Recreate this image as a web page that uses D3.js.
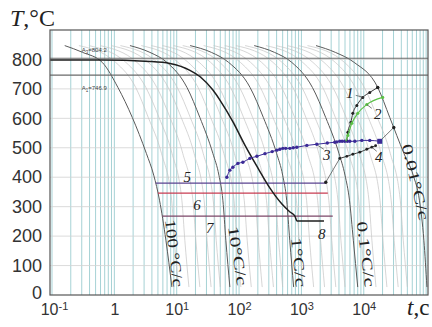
<!DOCTYPE html>
<html>
<head>
<meta charset="utf-8">
<script src="https://cdn.jsdelivr.net/npm/d3@7"></script>
<style>
  body { margin: 0; background: #fff; }
  svg { display: block; }
</style>
</head>
<body>
<div id="chart"></div>
<script>
// ---- data ----
const yTicks = [0, 100, 200, 300, 400, 500, 600, 700, 800];
const xTickVals = [0.1, 1, 10, 100, 1000, 10000];
const xTickBase = ["10", "1", "10", "10", "10", "10"];
const xTickExp = ["-1", "", "1", "2", "3", "4"];

const A3 = 804.2, A1 = 746.9;

// labelled cooling curves: shared temperatures, times per curve
const coolT = [847, 824, 790, 705, 603, 481, 407, 322, 186, 27];
const rateNames = ["100 °C/c", "10°C/c", "1°C/c", "0.1°C/c", "0.01°C/c"];
const t100 = [0.16, 0.31, 0.64, 1.14, 1.94, 3.26, 4.28, 5.30, 6.71, 8.37];
const t10 = [1.78, 3.72, 6.97, 14.6, 23.5, 38.0, 47.5, 55.0, 61.4, 71.2];
const t1 = [16.4, 36, 68, 150, 245, 400, 500, 580, 650, 750];
const t01 = [175, 370, 700, 1500, 2450, 4000, 5000, 5900, 6800, 8000];
const t001 = [1714, 3500, 7000, 16750, 26100, 44000, 62000, 78000, 92000, 103000];

// faint cooling curves in between
const lightT = [847, 790, 705, 603, 481, 322, 186, 27];
const lightTimes = [
  [0.27, 1.05, 2.2, 3.5, 5.7, 8.3, 9.2, 10.7],
  [0.39, 1.53, 3.2, 5.2, 8.4, 12.1, 13.5, 15.7],
  [0.59, 2.3, 4.8, 7.8, 12.5, 18.2, 20.3, 23.5],
  [0.89, 3.5, 7.3, 11.8, 19, 27.5, 30.7, 35.6],
  [1.25, 4.9, 10.2, 16.5, 26.6, 38.5, 43, 50],
  [2.7, 10.5, 22, 35, 57, 83, 92, 107],
  [3.9, 15.3, 32, 52, 84, 121, 135, 157],
  [5.9, 23, 48, 78, 125, 182, 203, 235],
  [8.9, 35, 73, 118, 190, 275, 307, 356],
  [12.5, 49, 102, 165, 266, 385, 430, 500],
  [27, 105, 220, 350, 570, 830, 920, 1070],
  [39, 153, 320, 520, 840, 1210, 1350, 1570],
  [59, 230, 480, 780, 1250, 1820, 2030, 2350],
  [89, 350, 730, 1180, 1900, 2750, 3070, 3560],
  [125, 490, 1020, 1650, 2660, 3850, 4300, 5000],
  [270, 1050, 2200, 3500, 5700, 8300, 9200, 10700],
  [390, 1530, 3200, 5200, 8400, 12100, 13500, 15700],
  [590, 2300, 4800, 7800, 12500, 18200, 20300, 23500],
  [890, 3500, 7300, 11800, 19000, 27500, 30700, 35600],
  [1250, 4900, 10200, 16500, 26600, 38500, 43000, 50000]
];

// thick curve ending at 8
const c8t = [0.093, 0.59, 3.7, 7.8, 16.3, 23.5, 38.1, 49.3, 79.8, 124, 201, 313, 487, 655, 787, 850, 2300];
const c8T = [798, 798, 793, 786, 763, 742, 696, 662, 588, 509, 431, 363, 309, 282, 268, 251, 251];

// curve 3 (blue dots)
const c3t = [63.7, 71.2, 79.6, 95.7, 115, 149, 193, 260, 340, 404, 451, 504, 560, 652, 740, 843,
             1221, 1766, 2600, 3430, 3700, 4120, 4500, 4960, 5450, 5970, 7180, 9290, 12480, 18030];
const c3T = [400, 424, 434, 447, 451, 464, 471, 480, 487, 492, 495, 498, 498, 498, 500, 502,
             508, 512, 516, 519, 520, 522, 522, 522, 522, 522, 522, 525, 525, 522];
// curve 1 (black dots)
const c1t = [5350, 5550, 6200, 6670, 7730, 9640, 12480, 16750];
const c1T = [522, 553, 586, 617, 644, 671, 688, 705];
// curve 2 (green)
const c2t = [5150, 5550, 6430, 8010, 11170, 20100];
const c2T = [522, 542, 583, 617, 647, 671];
// curve 4 (black dots)
const c4t = [4120, 5350, 6670, 8630, 11170, 13430, 15500];
const c4T = [464, 471, 478, 485, 495, 502, 507];
// connecting segments
const linkA = [[2460, 383], [4120, 464]];
const linkB = [[18030, 522], [30270, 569]];
const endDots = [[2460, 383], [30270, 569], [16750, 705]];

// horizontal lines 5, 6, 7 : [tStart, tEnd, T]
const line5 = [4.6, 2460, 380];
const line6 = [5.0, 2650, 346];
const line7 = [5.86, 3180, 268];

// ---- layout ----
const W = 432, H = 327;
const margin = {top: 30, right: 4, bottom: 32, left: 50};

const svg = d3.select("#chart").append("svg")
    .attr("width", W)
    .attr("height", H);

const x = d3.scaleLog()
    .domain([0.0929, 107150])
    .range([margin.left, W - margin.right]);
const y = d3.scaleLinear()
    .domain([0, 900])
    .range([H - margin.bottom, margin.top]);

svg.append("clipPath").attr("id", "plot")
  .append("rect")
    .attr("x", margin.left).attr("y", margin.top)
    .attr("width", W - margin.left - margin.right)
    .attr("height", H - margin.top - margin.bottom);

const plot = svg.append("g").attr("clip-path", "url(#plot)");

// grid
plot.append("g").selectAll("line")
  .data(x.ticks())
  .join("line")
    .attr("x1", d => x(d)).attr("x2", d => x(d))
    .attr("y1", margin.top).attr("y2", H - margin.bottom)
    .attr("stroke", "#9ccdd0")
    .attr("stroke-width", 0.9);
plot.append("g").selectAll("line")
  .data(yTicks.slice(1))
  .join("line")
    .attr("x1", margin.left).attr("x2", W - margin.right)
    .attr("y1", d => y(d)).attr("y2", d => y(d))
    .attr("stroke", "#d2d2d2")
    .attr("stroke-width", 0.8);

const line = d3.line()
    .x(d => x(d[0]))
    .y(d => y(d[1]))
    .curve(d3.curveMonotoneX);

// faint cooling curves
plot.append("g").selectAll("path")
  .data(lightTimes)
  .join("path")
    .attr("d", ts => line(d3.zip(ts, lightT)))
    .attr("fill", "none")
    .attr("stroke", "#c4c4c4")
    .attr("stroke-width", 0.7);

// labelled cooling curves
const rateTimes = [t100, t10, t1, t01, t001];
plot.append("g").selectAll("path")
  .data(rateTimes)
  .join("path")
    .attr("d", ts => line(d3.zip(ts, coolT)))
    .attr("fill", "none")
    .attr("stroke", "#5a5a5a")
    .attr("stroke-width", 1);

// A3 / A1 lines
plot.append("g").selectAll("line")
  .data([A3, A1])
  .join("line")
    .attr("x1", margin.left).attr("x2", W - margin.right)
    .attr("y1", d => y(d)).attr("y2", d => y(d))
    .attr("stroke", "#6a6a6a")
    .attr("stroke-width", 1.1);

// horizontal lines 5, 6, 7
const hLines = [
  {v: line5, color: "#5b4390"},
  {v: line6, color: "#c83c52"},
  {v: line7, color: "#7c4768"}
];
plot.append("g").selectAll("line")
  .data(hLines)
  .join("line")
    .attr("x1", d => x(d.v[0])).attr("x2", d => x(d.v[1]))
    .attr("y1", d => y(d.v[2])).attr("y2", d => y(d.v[2]))
    .attr("stroke", d => d.color)
    .attr("stroke-width", 1.1);

// thick curve (8)
plot.append("path")
    .attr("d", line(d3.zip(c8t, c8T)))
    .attr("fill", "none")
    .attr("stroke", "#1e1e1e")
    .attr("stroke-width", 1.5);

// connecting segments
plot.append("g").selectAll("path")
  .data([linkA, linkB])
  .join("path")
    .attr("d", d3.line().x(d => x(d[0])).y(d => y(d[1])))
    .attr("stroke", "#555")
    .attr("stroke-width", 0.8);

// dotted transformation curves
const dotted = [
  {t: c3t, T: c3T, color: "#3b2a96", lw: 1, r: 1.7, skip: 0},
  {t: c1t, T: c1T, color: "#222", lw: 0.9, r: 1.5, skip: 1},
  {t: c2t, T: c2T, color: "#5cc148", lw: 1.2, r: 1.6, skip: 1},
  {t: c4t, T: c4T, color: "#222", lw: 0.9, r: 1.4, skip: 0}
];
dotted.forEach(function(c) {
  const pts = d3.zip(c.t, c.T);
  plot.append("path")
      .attr("d", line(pts))
      .attr("fill", "none")
      .attr("stroke", c.color)
      .attr("stroke-width", c.lw);
  plot.append("g").selectAll("circle")
    .data(pts.slice(c.skip))
    .join("circle")
      .attr("cx", d => x(d[0]))
      .attr("cy", d => y(d[1]))
      .attr("r", c.r)
      .attr("fill", c.color);
});
// end of curve 3: square marker
plot.append("rect")
    .attr("x", x(c3t[c3t.length - 1]) - 2.5)
    .attr("y", y(c3T[c3T.length - 1]) - 2.5)
    .attr("width", 5).attr("height", 5)
    .attr("fill", "#3b2a96");
plot.append("g").selectAll("circle")
  .data(endDots)
  .join("circle")
    .attr("cx", d => x(d[0]))
    .attr("cy", d => y(d[1]))
    .attr("r", 1.7)
    .attr("fill", "#222");

// ---- annotations ----
const serif = "'Liberation Serif', 'DejaVu Serif', serif";
const sans = "'Liberation Sans', Arial, sans-serif";

// A3 / A1 captions
const aLabels = [
  {t: 0.30, T: 825, sub: "3", val: "=804.2"},
  {t: 0.30, T: 696, sub: "1", val: "=746.9"}
];
aLabels.forEach(function(a) {
  const tx = svg.append("text")
      .attr("x", x(a.t)).attr("y", y(a.T))
      .attr("font-family", sans)
      .attr("font-size", 6)
      .attr("fill", "#444");
  tx.append("tspan").text("A");
  tx.append("tspan").attr("dy", 1.5).attr("font-size", 4.5).text(a.sub);
  tx.append("tspan").attr("dy", -1.5).text(a.val);
});

// rotated rate labels
const rateLabels = [
  {t: 6.47, T: 255, angle: 83, len: 68},
  {t: 66.3, T: 231, angle: 81, len: 60},
  {t: 678, T: 194, angle: 84, len: 50},
  {t: 7740, T: 248, angle: 83, len: 66},
  {t: 40700, T: 509, angle: 77, len: 78}
];
svg.append("g").selectAll("text")
  .data(rateLabels)
  .join("text")
    .attr("transform", d => `translate(${x(d.t)},${y(d.T)}) rotate(${d.angle})`)
    .attr("font-family", serif)
    .attr("font-size", 15)
    .attr("fill", "#222")
    .attr("textLength", d => d.len)
    .attr("lengthAdjust", "spacingAndGlyphs")
    .text((d, i) => rateNames[i]);

// number labels
const numLabels = [
  {n: "1", t: 5960, T: 688},
  {n: "2", t: 16750, T: 617},
  {n: "3", t: 2550, T: 475},
  {n: "4", t: 17380, T: 471},
  {n: "5", t: 14.7, T: 403},
  {n: "6", t: 21.2, T: 305},
  {n: "7", t: 34, T: 230},
  {n: "8", t: 2120, T: 207}
];
svg.append("g").selectAll("text")
  .data(numLabels)
  .join("text")
    .attr("x", d => x(d.t))
    .attr("y", d => y(d.T))
    .attr("dy", "0.35em")
    .attr("text-anchor", "middle")
    .attr("font-family", serif)
    .attr("font-style", "italic")
    .attr("font-size", 15)
    .attr("fill", "#222")
    .text(d => d.n);

// leader lines for 1-4
const leaders = [
  [[7430, 678], [10000, 671]],
  [[13430, 634], [11170, 647]],
  [[2290, 495], [1830, 508]],
  [[16140, 488], [13430, 502]]
];
svg.append("g").selectAll("path")
  .data(leaders)
  .join("path")
    .attr("d", d3.line().x(d => x(d[0])).y(d => y(d[1])))
    .attr("stroke", "#444")
    .attr("stroke-width", 0.7);

// frame
svg.append("rect")
    .attr("x", margin.left).attr("y", margin.top)
    .attr("width", W - margin.left - margin.right)
    .attr("height", H - margin.top - margin.bottom)
    .attr("fill", "none")
    .attr("stroke", "#555")
    .attr("stroke-width", 1.2);

// Y axis
svg.append("g")
    .attr("transform", `translate(${margin.left},0)`)
    .call(d3.axisLeft(y).tickValues(yTicks).tickSize(0).tickPadding(8))
    .call(g => g.select(".domain").remove())
    .selectAll("text")
    .attr("font-family", sans)
    .attr("font-size", 18)
    .attr("fill", "#333")
    .attr("dy", d => d === 0 ? "0.2em" : "0.32em");

// X axis with powers of ten
svg.append("g")
    .attr("transform", `translate(0,${H - margin.bottom})`)
    .call(d3.axisBottom(x).tickValues(xTickVals).tickSize(0).tickPadding(9).tickFormat(""))
    .call(g => g.select(".domain").remove())
    .selectAll(".tick text")
    .attr("font-family", sans)
    .attr("font-size", 16)
    .attr("fill", "#333")
    .attr("dx", d => d === 0.1 ? 2 : 0)
    .each(function(d) {
      const i = xTickVals.indexOf(d);
      const t = d3.select(this);
      t.text(null);
      t.append("tspan").text(xTickBase[i]);
      if (xTickExp[i]) {
        t.append("tspan").attr("dy", "-0.45em").attr("font-size", 11).text(xTickExp[i]);
      }
    });

// axis titles
const yTitle = svg.append("text")
    .attr("x", 10).attr("y", 26)
    .attr("font-family", serif)
    .attr("font-size", 24)
    .attr("fill", "#222");
yTitle.append("tspan").attr("font-style", "italic").text("T");
yTitle.append("tspan").text(",°C");

const xTitle = svg.append("text")
    .attr("x", 407).attr("y", 315)
    .attr("font-family", serif)
    .attr("font-size", 23)
    .attr("fill", "#222");
xTitle.append("tspan").attr("font-style", "italic").text("t");
xTitle.append("tspan").text(",c");
</script>
</body>
</html>
